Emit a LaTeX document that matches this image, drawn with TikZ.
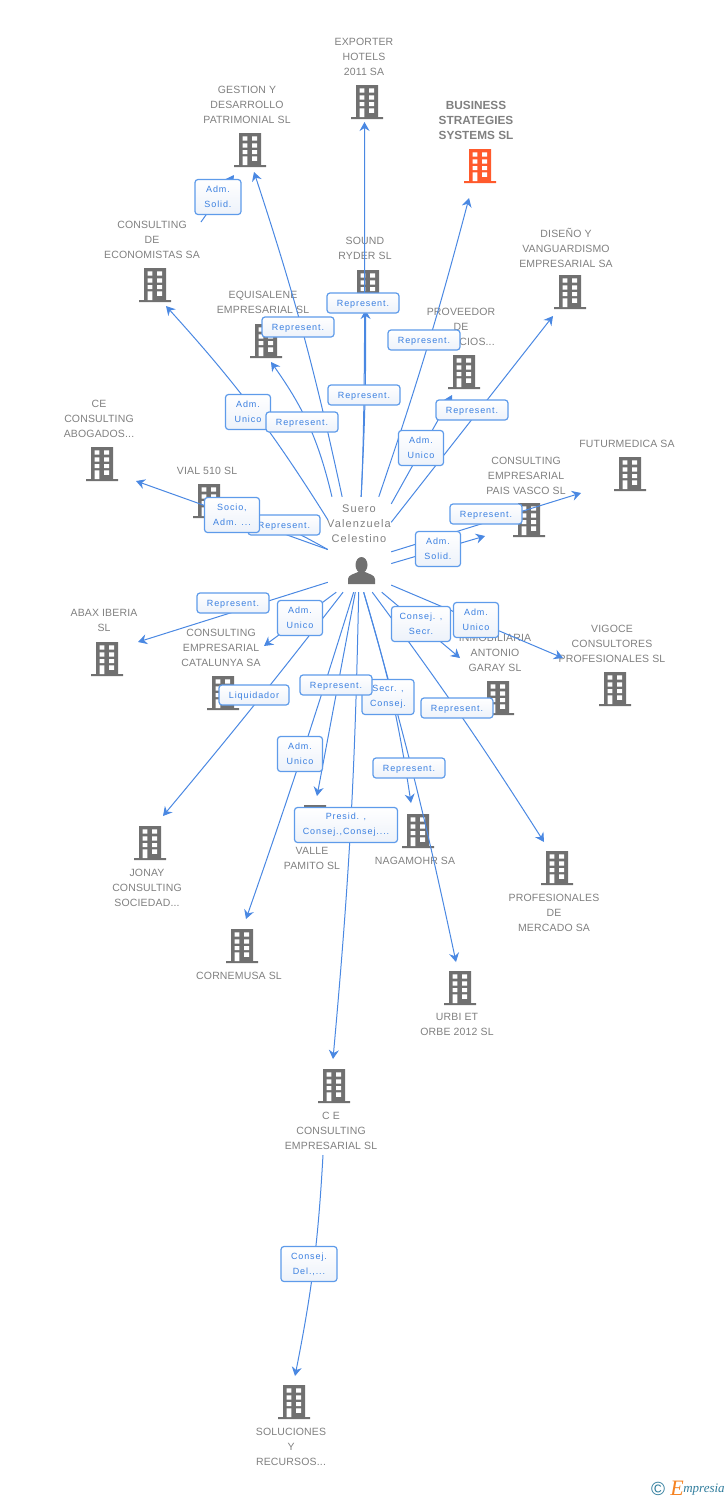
\documentclass[tikz,border=0pt]{standalone}
\usepackage{fontspec}
\setmainfont{Liberation Sans}
\newfontfamily\boxfont[LetterSpace=10]{Liberation Sans}
\newfontfamily\capfont[LetterSpace=1.5]{Liberation Sans}
\newfontfamily\logofont{Liberation Serif}
\usetikzlibrary{arrows.meta}
\definecolor{gristexto}{HTML}{808080}
\definecolor{grisicono}{HTML}{707070}
\definecolor{naranja}{HTML}{FF5A2C}
\definecolor{azul}{HTML}{4A88E2}
\definecolor{azulborde}{HTML}{5E9BEA}
\definecolor{azultexto}{HTML}{3A7FE0}
\definecolor{azulfondo}{HTML}{EDF2FA}
\definecolor{azullogo}{HTML}{2F7C9C}
\definecolor{naranjalogo}{HTML}{F58220}
\tikzset{
  edificio/.style={minimum width=32pt, minimum height=34pt, inner sep=0pt,
    path picture={
      \begin{scope}[shift={(path picture bounding box.center)}]
        \fill[#1] (-11,-17) rectangle (11,15) (-16,15) rectangle (16,17);
        \foreach \fila in {-13.7,-6.6,0}
          \fill[white] (-7.3,\fila) rectangle (-2.7,\fila+4.2) (2,\fila) rectangle (7,\fila+4.2);
        \fill[white] (-7.3,6.3) rectangle (-2.7,15) (2,6.3) rectangle (7,10.8);
      \end{scope}
    }},
  edificio/.default=grisicono,
  rotulo/.style={font=\capfont\fontsize{10.5}{15}\selectfont, text=gristexto, align=center, inner sep=0pt, yshift=-.7pt},
  enlace/.style={draw=azul, line width=1pt, -{Stealth[length=9pt,width=10pt,inset=3pt]}},
  cargo/.style={draw=azulborde, line width=1.2pt, rounded corners=3pt, top color=white, bottom color=azulfondo,
    text=azultexto, font=\boxfont\fontsize{9}{15}\selectfont, align=center, inner sep=0pt,
    execute at begin node=\rule{0pt}{9pt}}
}
\begin{document}
\begin{tikzpicture}[x=1pt, y=-1pt]
\useasboundingbox (0,0) rectangle (728,1500);

\foreach \nombre/\x/\y in {
  exporter/367/102, gestion/250/150, sound/368/287, equisalene/266/341,
  diseno/570/292, proveedor/464/372, economistas/155/285, abogados/102/464,
  vial/209/501, futurmedica/630/474, vasco/529/520, abax/107/659,
  catalunya/223/693, inmobiliaria/498/698, vigoce/615/689, pamito/315/822,
  nagamohr/418/831, jonay/150/843, cornemusa/242/946, profesionales/557/868,
  urbi/460/988, ceconsulting/334/1086, soluciones/294/1402}
  \node[edificio] (\nombre) at (\x,\y) {};
\node[edificio=naranja] (business) at (480,166) {};

\foreach \nombre/\x/\y/\texto in {
  rexporter/364/56/{EXPORTER\\HOTELS\\2011 SA},
  rgestion/247/104/{GESTION Y\\DESARROLLO\\PATRIMONIAL SL},
  reconomistas/152/239/{CONSULTING\\DE\\ECONOMISTAS SA},
  rsound/365/248/{SOUND\\RYDER SL},
  requisalene/263/302/{EQUISALENE\\EMPRESARIAL SL},
  rdiseno/566/247/{DISEÑO Y\\VANGUARDISMO\\EMPRESARIAL SA},
  rproveedor/461/326/{PROVEEDOR\\DE\\SERVICIOS...},
  rabogados/99/418/{CE\\CONSULTING\\ABOGADOS...},
  rvial/207/470/{VIAL 510 SL},
  rfuturmedica/627/443/{FUTURMEDICA SA},
  rvasco/526/475/{CONSULTING\\EMPRESARIAL\\PAIS VASCO SL},
  rabax/104/620/{ABAX IBERIA\\SL},
  rcatalunya/221/647/{CONSULTING\\EMPRESARIAL\\CATALUNYA SA},
  rinmobiliaria/495/652/{INMOBILIARIA\\ANTONIO\\GARAY SL},
  rvigoce/612/643/{VIGOCE\\CONSULTORES\\PROFESIONALES SL},
  rpamito/312/858/{VALLE\\PAMITO SL},
  rnagamohr/415/860/{NAGAMOHR SA},
  rjonay/147/887/{JONAY\\CONSULTING\\SOCIEDAD...},
  rcornemusa/239/975/{CORNEMUSA SL},
  rprofesionales/554/912/{PROFESIONALES\\DE\\MERCADO SA},
  rurbi/457/1024/{URBI ET\\ORBE 2012 SL},
  rceconsulting/331/1130/{C E\\CONSULTING\\EMPRESARIAL SL},
  rsoluciones/291/1446/{SOLUCIONES\\Y\\RECURSOS...}}
  \node[rotulo] (\nombre) at (\x,\y) {\texto};
\node[rotulo, font=\bfseries\fontsize{11.8}{15}\selectfont] (rbusiness) at (476,119.3) {BUSINESS\\STRATEGIES\\SYSTEMS SL};

\node[rotulo, font=\boxfont\fontsize{11}{15}\selectfont] (rsuero) at (359,523) {Suero\\Valenzuela\\Celestino};
\node[minimum width=63pt, minimum height=95pt, inner sep=0pt] (suero) at (359.5,544.5) {};
\fill[grisicono] (348,584) -- (348,579) .. controls (348,575) and (354,574) .. (358,572)
  -- (365,572) .. controls (369,574) and (375,575) .. (375,579) -- (375,584) -- cycle;
\fill[grisicono] (361.5,565) ellipse (6 and 8);

\foreach \nombre/\x/\y in {
  pexporter/364.5/122, pgestion/254/172, psound/365.5/310, pequisalene/271/362,
  pbusiness/469/198, pproveedor/452/395, pdiseno/553/316, peconomistas/166/306,
  pabogados/136/481, pvial/225/505, pfuturmedica/581/493, pvasco/485/536,
  pabax/138/642, pcatalunya/264/646, pinmobiliaria/460/658, pvigoce/563/658,
  ppamito/317/796, pnagamohr/411/803, pjonay/163/816, pcornemusa/246/919,
  pprofesionales/544/842, purbi/456/962, pceconsulting/333/1059,
  psoluciones/295/1376, pgestionb/234/175, psalida/201/222, psalidab/323/1155}
  \coordinate (\nombre) at (\x,\y);

\draw[enlace] (suero.88.2) .. controls (365,420) and (365,300) .. (pexporter);
\draw[enlace] (suero.88.2) .. controls (365,420) and (366,380) .. (psound);
\foreach \ang/\punta/\curva in {
  110.2/pgestion/-3, 120.1/pequisalene/-11,
  142.1/peconomistas/-5, 68.7/pbusiness/-2, 52.8/pproveedor/0, 35.5/pdiseno/0,
  189.9/pabogados/0, 189.9/pvial/-6, -13.4/pfuturmedica/0, -31.8/pvasco/0,
  -130/pabax/0, -116.3/pcatalunya/0, -109.2/pjonay/1, -52.8/pvigoce/0,
  -65.6/pinmobiliaria/0, -75.3/pprofesionales/2, -85.8/purbi/2, -85.8/pnagamohr/4,
  -95.4/ppamito/0, -97.8/pcornemusa/1, -91.8/pceconsulting/2}
  \draw[enlace] (suero.\ang) to[bend left=\curva] (\punta);
\draw[enlace] (psalida) -- (pgestionb);
\draw[enlace] (psalidab) to[bend left=4] (psoluciones);

\foreach \nombre/\x/\y/\ancho/\alto/\texto in {
  csolid/218/197/46/35/{Adm.\\Solid.},
  csound/363/303/72/20/{Represent.},
  cgestion/298/327/72/20/{Represent.},
  cbusiness/424/340/72/20/{Represent.},
  cunico/248/412/45/35/{Adm.\\Unico},
  cequisalene/302/422/72/20/{Represent.},
  cexporter/364/395/72/20/{Represent.},
  cdiseno/472/410/72/20/{Represent.},
  cproveedor/421/448/45/35/{Adm.\\Unico},
  cvial/284/525/72/20/{Represent.},
  csocio/232/515/55/35/{Socio,\\Adm. ...},
  cfuturmedica/486/514/72/20/{Represent.},
  cvasco/438/549/45/35/{Adm.\\Solid.},
  cabax/233/603/72/20/{Represent.},
  ccatalunya/300/618/45/35/{Adm.\\Unico},
  cliquidador/254/695/70/20/{Liquidador},
  csecr/421/624/59/35/{Consej. ,\\Secr.},
  cvigoce/476/620/45/35/{Adm.\\Unico},
  cconsej/388/697/52/35/{Secr. ,\\Consej.},
  cpamito/336/685/72/20/{Represent.},
  cinmobiliaria/457/708/72/20/{Represent.},
  ccornemusa/300/754/45/35/{Adm.\\Unico},
  cnagamohr/409/768/72/20/{Represent.},
  cpresid/346/825/103/35/{Presid. ,\\Consej.,Consej....},
  cdel/309/1264/56/35/{Consej.\\Del.,...}}
  \node[cargo, minimum width=\ancho pt, minimum height=\alto pt] (\nombre) at (\x,\y) {\texto};

\node[inner sep=0pt, text=azullogo, font=\fontsize{19}{19}\selectfont] (copyright) at (658,1489) {©};
\node[inner sep=0pt, text=naranjalogo, font=\logofont\itshape\fontsize{22}{22}\selectfont] (logoe) at (677,1488) {E};
\node[inner sep=0pt, text=azullogo, font=\logofont\itshape\fontsize{13}{13}\selectfont] (logotexto) at (704,1490) {mpresia};
\end{tikzpicture}
\end{document}
